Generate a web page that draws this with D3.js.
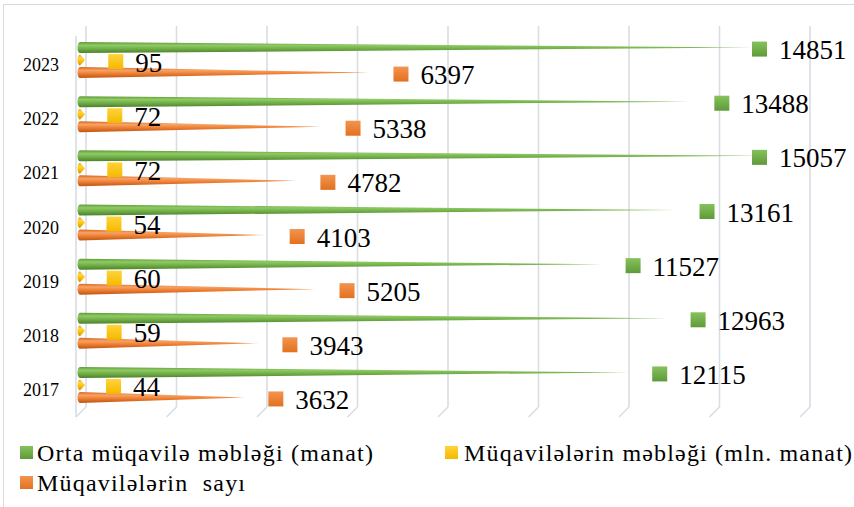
<!DOCTYPE html>
<html>
<head>
<meta charset="utf-8">
<script src="https://cdn.jsdelivr.net/npm/d3@7"></script>
<style>
  html, body { margin: 0; padding: 0; background: #fff; }
  svg { display: block; }
</style>
</head>
<body>
<script>
const years = ["2017", "2018", "2019", "2020", "2021", "2022", "2023"];
const ortaMebleg = [12115, 12963, 11527, 13161, 15057, 13488, 14851];
const muqavileMebleg = [44, 59, 60, 54, 72, 72, 95];
const muqavileSayi = [3632, 3943, 5205, 4103, 4782, 5338, 6397];
const xTicks = [0, 2000, 4000, 6000, 8000, 10000, 12000, 14000, 16000];
const seriesNames = ["Orta müqavilə məbləği (manat)", "Müqavilələrin məbləği (mln. manat)", "Müqavilələrin  sayı"];

const FONT = "'Liberation Serif', 'Times New Roman', Tinos, 'DejaVu Serif', serif";
const W = 854, H = 507;
const svg = d3.select("body").append("svg").attr("width", W).attr("height", H)
  .attr("font-family", FONT).style("font-family", FONT);
const defs = svg.append("defs");

const palettes = [
  { id: "gGreen", stops: ["#5f9c37", "#8fca64", "#72af48", "#4b812b"], marker: ["#86c25c", "#5e9a38"] },
  { id: "gYellow", stops: ["#e0a800", "#ffd54a", "#ffc000", "#c99700"], marker: ["#ffd43a", "#f5b800"] },
  { id: "gOrange", stops: ["#d9661f", "#f6a366", "#ee7e32", "#bd5512"], marker: ["#f39450", "#e2711f"] }
];
palettes.forEach(p => {
  const g = defs.append("linearGradient").attr("id", p.id).attr("x1", 0).attr("y1", 0).attr("x2", 0).attr("y2", 1);
  [0, 0.3, 0.6, 1].forEach((o, i) => g.append("stop").attr("offset", o).attr("stop-color", p.stops[i]));
  const m = defs.append("linearGradient").attr("id", p.id + "M").attr("x1", 0).attr("y1", 0).attr("x2", 0).attr("y2", 1);
  m.append("stop").attr("offset", 0).attr("stop-color", p.marker[0]);
  m.append("stop").attr("offset", 1).attr("stop-color", p.marker[1]);
});

// chart frame
svg.append("rect").attr("x", 3.5).attr("y", 4.5).attr("width", 900).attr("height", 600)
  .attr("fill", "#fff").attr("stroke", "#d9d9d9").attr("stroke-width", 1);

const x = d3.scaleLinear().domain([0, 16000]).range([80, 804]);
const y = d3.scaleBand().domain(years.slice().reverse()).range([38, 417]);
const depth = 6, floorTop = 407, floorBot = 417;

// back wall gridlines + floor
const grid = svg.append("g").attr("stroke", "#d9dde4").attr("stroke-width", 1.6).attr("fill", "none");
grid.selectAll("line.v").data(xTicks).join("line").attr("class", "v")
  .attr("x1", d => x(d) + depth).attr("x2", d => x(d) + depth)
  .attr("y1", 26).attr("y2", floorTop);
grid.selectAll("line.f").data(xTicks).join("line").attr("class", "f")
  .attr("x1", d => x(d) + depth).attr("x2", d => x(d) + depth - 10)
  .attr("y1", floorTop).attr("y2", floorBot);
// left wall front edge
grid.append("line").attr("x1", x(0) - 4).attr("x2", x(0) - 4).attr("y1", 36).attr("y2", floorBot);

// year labels
svg.append("g").selectAll("text").data(years).join("text")
  .attr("x", 59).attr("y", d => y(d) + y.bandwidth() / 2 + 6)
  .attr("text-anchor", "end").attr("font-size", 18).attr("fill", "#000").text(d => d);

const series = [ortaMebleg, muqavileMebleg, muqavileSayi];
const offsets = [-12.5, 0, 12.5];
const h = 5.5, rx = 2.5;

function conePath(v, c) {
  const x0 = x(0), x1 = Math.max(x(v), x(0) + 5);
  return `M${x0},${c - h} L${x1},${c} L${x0},${c + h} A${rx},${h} 0 0 1 ${x0},${c - h} Z`;
}

// cones
series.forEach((vals, si) => {
  const data = years.map((yr, i) => ({ yr, v: vals[i] }));
  const cy = d => y(d.yr) + y.bandwidth() / 2 - 5 + offsets[si];
  svg.append("g").selectAll("path").data(data).join("path")
    .attr("d", d => conePath(d.v, cy(d)))
    .attr("fill", `url(#${palettes[si].id})`);
});

// value labels
series.forEach((vals, si) => {
  const data = years.map((yr, i) => ({ yr, v: vals[i] }));
  const cy = d => y(d.yr) + y.bandwidth() / 2 - 5 + offsets[si] + 1.5;
  const lx = d => Math.min(x(d.v) + 24, 752);
  const g = svg.append("g");
  g.selectAll("rect").data(data).join("rect")
    .attr("x", lx).attr("y", d => cy(d) - 7.5).attr("width", 15).attr("height", 15)
    .attr("fill", `url(#${palettes[si].id}M)`);
  g.selectAll("text").data(data).join("text")
    .attr("x", d => lx(d) + 27).attr("y", d => cy(d) + 10)
    .attr("font-size", 27).attr("fill", "#000").text(d => d.v);
});

// legend
const legend = [
  { name: seriesNames[0], mx: 20, my: 446, tx: 37, ty: 461, w: 336, p: 0 },
  { name: seriesNames[1], mx: 445, my: 446, tx: 464, ty: 461, w: 388, p: 1 },
  { name: seriesNames[2], mx: 20, my: 476, tx: 37, ty: 491, w: 208, p: 2 }
];
const lg = svg.append("g");
lg.selectAll("rect").data(legend).join("rect")
  .attr("x", d => d.mx).attr("y", d => d.my).attr("width", 13).attr("height", 13)
  .attr("fill", d => `url(#${palettes[d.p].id}M)`);
lg.selectAll("text").data(legend).join("text")
  .attr("x", d => d.tx).attr("y", d => d.ty).attr("font-size", 24).attr("fill", "#000")
  .attr("xml:space", "preserve").style("white-space", "pre")
  .attr("textLength", d => d.w).attr("lengthAdjust", "spacing")
  .text(d => d.name);
</script>
</body>
</html>
